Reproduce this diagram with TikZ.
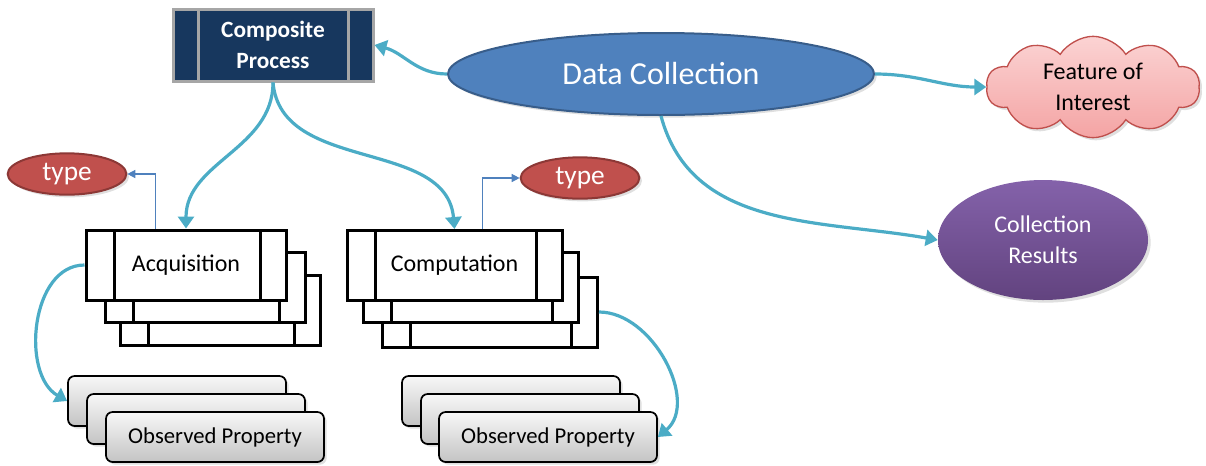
\documentclass[tikz,border=0pt]{standalone}
\usepackage{fontspec}
\setmainfont{Carlito}
\usetikzlibrary{shapes.geometric,shapes.symbols,arrows.meta,calc,shadows}

\definecolor{navy}{HTML}{17375E}
\definecolor{frame}{HTML}{A6A6A6}
\definecolor{dcfill}{HTML}{4F81BD}
\definecolor{dcline}{HTML}{385D8A}
\definecolor{link}{HTML}{4BACC6}
\definecolor{typefill}{HTML}{C0504D}
\definecolor{typeline}{HTML}{8C3836}
\definecolor{cloudtop}{HTML}{FBD3D3}
\definecolor{cloudbot}{HTML}{F4A4A4}
\definecolor{cloudline}{HTML}{C0504D}
\definecolor{purpletop}{HTML}{8462AA}
\definecolor{purplebot}{HTML}{62437F}
\definecolor{optop}{HTML}{F7F7F7}
\definecolor{opbot}{HTML}{C4C4C4}

\tikzset{
  softshadow/.style={drop shadow={opacity=0.25,shadow xshift=2pt,shadow yshift=-2pt}},
  cpbox/.style={draw=frame, line width=2.25pt, fill=navy, text=white,
    minimum width=150pt, minimum height=54pt, inner sep=0pt, align=center,
    font=\fontsize{17.5}{23}\selectfont\bfseries,
    path picture={
      \draw[frame, line width=2.25pt]
        ([xshift=18.75pt]path picture bounding box.north west) --
        ([xshift=18.75pt]path picture bounding box.south west);
      \draw[frame, line width=2.25pt]
        ([xshift=-18.75pt]path picture bounding box.north east) --
        ([xshift=-18.75pt]path picture bounding box.south east);}},
  dcell/.style={ellipse, draw=dcline, line width=1.5pt, fill=dcfill, text=white,
    minimum width=319.5pt, minimum height=61.5pt, inner sep=0pt,
    font=\fontsize{24}{28}\selectfont, softshadow},
  cloudnode/.style={cloud, cloud puffs=10, cloud puff arc=115, aspect=2.1,
    draw=cloudline, line width=1pt, top color=cloudtop, bottom color=cloudbot,
    minimum width=160pt, minimum height=76pt, inner sep=0pt, align=center,
    font=\fontsize{18}{23}\selectfont, softshadow},
  crell/.style={ellipse, top color=purpletop, bottom color=purplebot, text=white,
    minimum width=157.5pt, minimum height=90pt, inner sep=0pt, align=center,
    font=\fontsize{18}{23}\selectfont, softshadow},
  typeell/.style={ellipse, draw=typeline, line width=1.5pt, fill=typefill, text=white,
    minimum width=89pt, minimum height=31pt, inner sep=0pt,
    font=\fontsize{20.5}{24}\selectfont, softshadow},
  procbox/.style={draw=black, line width=2.25pt, fill=white,
    minimum width=150pt, minimum height=52.5pt, inner sep=0pt,
    font=\fontsize{18}{22}\selectfont,
    path picture={
      \draw[line width=2.25pt]
        ([xshift=21pt]path picture bounding box.north west) --
        ([xshift=21pt]path picture bounding box.south west);
      \draw[line width=2.25pt]
        ([xshift=-19.5pt]path picture bounding box.north east) --
        ([xshift=-19.5pt]path picture bounding box.south east);}},
  opbox/.style={draw=black, line width=1.3pt, rounded corners=5pt,
    top color=optop, bottom color=opbot,
    minimum width=163.5pt, minimum height=37.5pt, inner sep=0pt,
    font=\fontsize{17}{21}\selectfont, softshadow},
  conn/.style={draw=link, line width=2.4pt, -{Triangle[width=12pt,length=9pt]}},
  typelink/.style={draw=dcfill, line width=1.1pt, -{Triangle[width=6pt,length=6pt]}}
}

\begin{document}
\begin{tikzpicture}[x=0.75pt,y=0.75pt]
\useasboundingbox (0,0) rectangle (1206,-465);

% top row
\node[cpbox] (cp) at (273,-45) {Composite\\Process};
\node[dcell] (dc) at (661,-74) {Data Collection};
\node[cloudnode] (foi) at (1093,-87) {Feature of\\Interest};
\node[crell] (cr) at (1043,-240) {Collection\\Results};

% type labels
\node[typeell] (t1) at (67,-174) {type};
\node[typeell] (t2) at (580,-178) {type};

% acquisition stack (back to front)
\node[procbox] (acq3) at (220,-310) {};
\node[procbox] (acq2) at (205,-287) {};
\node[procbox] (acq) at (186,-265) {Acquisition};

% computation stack (back to front)
\node[procbox, minimum width=161.25pt] (comp3) at (490,-312) {};
\node[procbox, minimum width=161.25pt] (comp2) at (470.5,-287) {};
\node[procbox, minimum width=161.25pt] (comp) at (454.5,-265.5) {Computation};

% observed property stacks
\node[opbox] (opL1) at (177,-401) {};
\node[opbox] (opL2) at (196,-419) {};
\node[opbox] (opL3) at (215,-437) {Observed Property};
\node[opbox] (opR1) at (511,-401) {};
\node[opbox] (opR2) at (530,-419) {};
\node[opbox] (opR3) at (548,-437) {Observed Property};

% connectors
\draw[conn] (dc.west) to[out=180,in=-15] (cp.east);
\draw[conn] (dc.east) to[out=0,in=180] (foi.west);
\draw[conn] (dc.south) to[out=-75,in=170] (cr.west);
\draw[conn] (cp.south) to[out=-90,in=90] (acq.north);
\draw[conn] (cp.south) to[out=-85,in=95] (comp.north);
\draw[conn] (acq.west) to[out=180,in=150] (opL1.west);
\draw[conn] (comp3.east) to[out=0,in=40] (opR3.east);

\draw[typelink] ($(acq.north west)+(71,0)$) |- (t1.east);
\draw[typelink] ($(comp.north west)+(137,0)$) |- (t2.west);
\end{tikzpicture}
\end{document}
